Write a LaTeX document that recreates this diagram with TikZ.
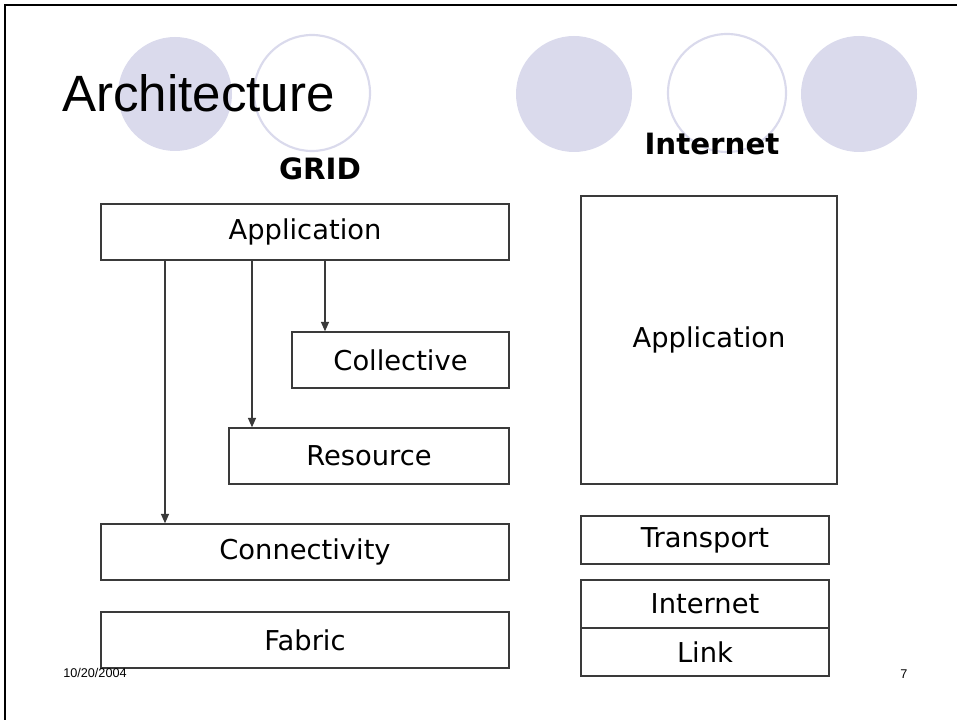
\documentclass[tikz,border=0pt]{standalone}
\usepackage{fontspec}
\setmainfont{Liberation Sans}
\newfontfamily\layerfont{DejaVu Sans}
\usepackage{tikz}
\usetikzlibrary{positioning}
\usetikzlibrary{calc}
\usetikzlibrary{arrows.meta}
\definecolor{dotlilac}{HTML}{DADAEC}
\definecolor{boxline}{HTML}{3A3A3A}
\tikzset{
	layer/.style={
		draw=boxline, line width=1.1pt, rectangle, inner sep=0pt,
		font=\layerfont\fontsize{20.5}{23}\selectfont
	},
	wide layer/.style={
		layer, minimum width=306pt, minimum height=42pt
	},
	calls/.style={
		draw=boxline, line width=0.9pt,
		-{Triangle[length=7pt,width=6pt]}
	},
	stack title/.style={
		font=\layerfont\bfseries\fontsize{22}{25}\selectfont, anchor=base
	},
	full dot/.style={fill=dotlilac},
	ring dot/.style={draw=dotlilac, line width=1.6pt}
}

\begin{document}
\begin{tikzpicture}[x=0.75pt, y=-0.75pt]
    \useasboundingbox (0,0) rectangle (957,720);
    % slide frame
    \draw[line width=2pt] (5,720) -- (5,5) -- (957,5);
    % decoration dots
    \fill[full dot] (175,94) circle (57);
    \draw[ring dot] (312,93) circle (58);
    \fill[full dot] (574,94) circle (58);
    \draw[ring dot] (727,93) circle (59);
    \fill[full dot] (859,94) circle (58);

    \node[anchor=base west, inner sep=0pt, font=\fontsize{38.3}{41}\selectfont] (title) at (62,112) {Architecture};
    \node[stack title] (gridtitle) at (320,180) {GRID};
    \node[stack title] (nettitle) at (712,155) {Internet};

    % GRID stack
    \node[wide layer] (GApp) at (305,232) {Application};
    \node[layer, minimum width=162.75pt, minimum height=42pt] (Collective) at (400.5,360) {Collective};
    \node[layer, minimum width=210pt, minimum height=42pt] (Resource) at (369,456) {Resource};
    \node[wide layer] (Connectivity) at (305,552) {Connectivity};
    \node[wide layer] (Fabric) at (305,640) {Fabric};

    \coordinate (toConn) at (165,0);
    \coordinate (toRes) at (252,0);
    \coordinate (toColl) at (325,0);
    \draw[calls] (GApp.south -| toConn) -- (Connectivity.north -| toConn);
    \draw[calls] (GApp.south -| toRes) -- (Resource.north -| toRes);
    \draw[calls] (GApp.south -| toColl) -- (Collective.north -| toColl);

    % Internet stack
    \node[layer, minimum width=192pt, minimum height=216pt] (IApp) at (709,340) {Application};
    \node[layer, minimum width=186pt, minimum height=36pt] (Transport) at (705,540) {Transport};
    \node[layer, minimum width=186pt, minimum height=36pt] (INet) at (705,604) {Internet};
    \node[layer, minimum width=186pt, minimum height=36pt] (Link) at (705,652) {Link};

    % footer
    \node[anchor=base west, inner sep=0pt, font=\fontsize{9.5}{11}\selectfont] (date) at (63,677) {10/20/2004};
    \node[anchor=base west, inner sep=0pt, font=\fontsize{9.5}{11}\selectfont] (page) at (900,678) {7};
\end{tikzpicture}
\end{document}
